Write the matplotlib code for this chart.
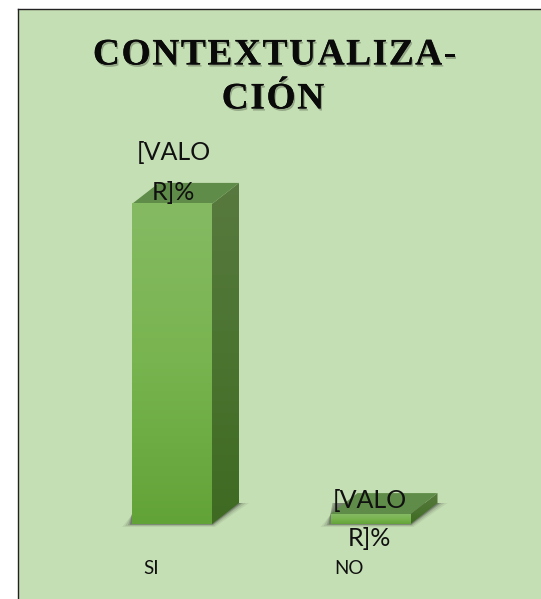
import numpy as np
import matplotlib
matplotlib.use('Agg')
import matplotlib.pyplot as plt
import matplotlib.patheffects as pe
from matplotlib.colors import LinearSegmentedColormap

categories = ['SI', 'NO']
values = [97, 3]
label_lines = ['[VALO', 'R]%']
title_lines = ['CONTEXTUALIZA-', 'CIÓN']

W, H = 541, 599
dpi = 100
panel_left, panel_top = 18, 9   # panel runs off the right and bottom edges
base_px = 524                   # pixel row of value 0
px_per_unit = 3.3
first_px, step_px = 172, 198.5  # pixel column of category 0, and spacing
bar_w = 80 / step_px
depth = (27, 21)                # depth of the boxes, in pixels

fig = plt.figure(figsize=(W / dpi, H / dpi), dpi=dpi, facecolor='white')
ax = fig.add_axes([panel_left / W, 0, (W - panel_left) / W, (H - panel_top) / H])
ax.set_facecolor('#C5DFB4')
ax.set_xticks([])
ax.set_yticks([])
for side in ['right', 'bottom']:
    ax.spines[side].set_visible(False)
for side in ['left', 'top']:
    ax.spines[side].set_linewidth(1.0)
    ax.spines[side].set_color('#222222')

front_cmap = LinearSegmentedColormap.from_list('front', ['#62A337', '#78B44F', '#85BA63'])
side_cmap = LinearSegmentedColormap.from_list('side', ['#3E6A22', '#4B7430', '#58793F'])
grad = np.linspace(0, 1, 128).reshape(-1, 1)

for i, v in enumerate(values):
    x0, x1 = i - bar_w / 2, i + bar_w / 2
    dx, dy = depth[0] / step_px, depth[1] / px_per_unit

    # soft floor shadow
    for grow, alpha in [(10, 0.07), (7, 0.11), (4, 0.18), (2, 0.28)]:
        g = grow / step_px
        low = grow * 0.3 / px_per_unit
        xs = [x0 - g, x1 + g * 0.3, x1 + dx + g, x0 + g]
        ys = [-low, -low, dy, dy]
        ax.fill(xs, ys, color='#222222', alpha=alpha, lw=0, zorder=1)

    # side face
    side = ax.imshow(grad, cmap=side_cmap, aspect='auto', origin='lower', zorder=2,
                     extent=[x1, x1 + dx, 0, v + dy])
    clip = ax.fill([x1, x1 + dx, x1 + dx, x1], [0, dy, v + dy, v], color='none', lw=0)[0]
    side.set_clip_path(clip)

    # top face
    ax.fill([x0, x1, x1 + dx, x0 + dx], [v, v, v + dy, v + dy], color='#5F8C48', lw=0, zorder=3)

    # front face
    ax.imshow(grad, cmap=front_cmap, aspect='auto', origin='lower', zorder=4,
              extent=[x0, x1, 0, v])

ax.set_xlim((panel_left - first_px) / step_px, (W - first_px) / step_px)
ax.set_ylim((base_px - H) / px_per_unit, (base_px - panel_top) / px_per_unit)

# data labels, wrapped the way the source wraps them
label_px = [[(174, 153), (173, 192)], [(370, 500), (369, 538)]]
for rows in label_px:
    for line, (px, py) in zip(label_lines, rows):
        ax.text(px / W, 1 - py / H, line, transform=fig.transFigure, ha='center', va='center',
                family='Lato', size=18, color='#111111', zorder=6)

# category labels
for cat, px in zip(categories, [151, 349]):
    ax.text(px / W, 1 - 568 / H, cat, transform=fig.transFigure, ha='center', va='center',
            family='Lato', size=13.5, color='#111111', zorder=6)

# title, spaced out letter by letter since matplotlib has no tracking
title_font = {'family': 'Liberation Serif', 'weight': 'bold', 'size': 27, 'color': '#0A0A0A'}
shadow = [pe.withSimplePatchShadow(offset=(1, -1.5), shadow_rgbFace='#000000', alpha=0.25), pe.Normal()]
renderer = fig.canvas.get_renderer()

def text_width(s):
    t = fig.text(0, 0, s, **title_font)
    w = t.get_window_extent(renderer).width
    t.remove()
    return w

tracking = 1.5
for line, py, centre in zip(title_lines, [51, 95], [274.5, 273]):
    total = text_width(line) + tracking * (len(line) - 1)
    for n, ch in enumerate(line):
        px = centre - total / 2 + text_width(line[:n]) + tracking * n if n else centre - total / 2
        fig.text(px / W, 1 - py / H, ch, ha='left', va='center_baseline', zorder=6,
                 path_effects=shadow, **title_font)

fig.savefig('out.png', dpi=dpi)
